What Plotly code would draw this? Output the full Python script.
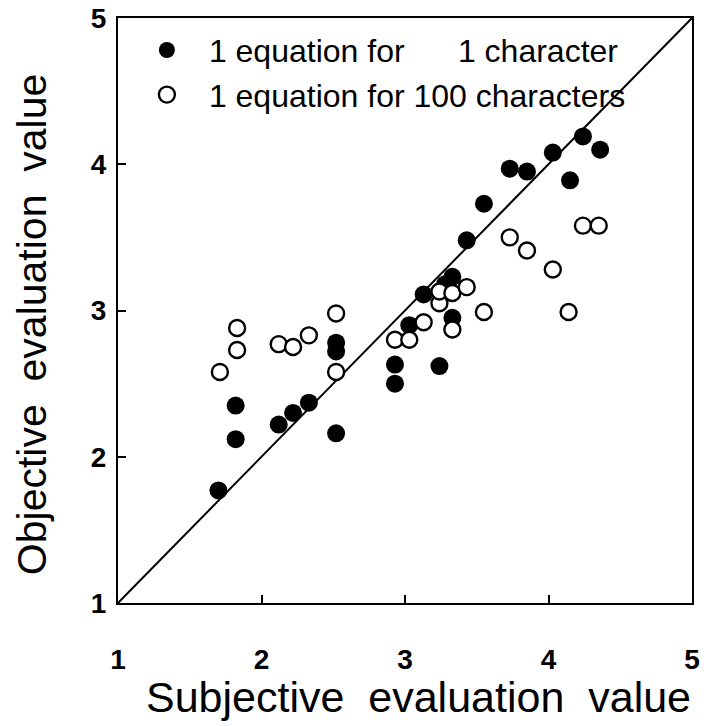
import plotly.graph_objects as go

# Data
filled_x = [1.70, 1.82, 1.82, 2.12, 2.22, 2.33, 2.52, 2.52, 2.52, 2.93, 2.93, 3.03, 3.13,
            3.24, 3.28, 3.33, 3.33, 3.43, 3.55, 3.73, 3.85, 4.03, 4.15, 4.24, 4.36]
filled_y = [1.77, 2.35, 2.12, 2.22, 2.30, 2.37, 2.78, 2.72, 2.16, 2.63, 2.50, 2.90, 3.11,
            2.62, 3.18, 3.23, 2.95, 3.48, 3.73, 3.97, 3.95, 4.08, 3.89, 4.19, 4.10]

open_x = [1.71, 1.83, 1.83, 2.12, 2.22, 2.33, 2.52, 2.52, 2.93, 3.03, 3.13, 3.24,
          3.24, 3.33, 3.43, 3.33, 3.55, 3.73, 3.85, 4.03, 4.14, 4.24, 4.35]
open_y = [2.58, 2.88, 2.73, 2.77, 2.75, 2.83, 2.98, 2.58, 2.80, 2.80, 2.92, 3.05,
          3.13, 3.12, 3.16, 2.87, 2.99, 3.50, 3.41, 3.28, 2.99, 3.58, 3.58]

diag = [1, 5]
ticks = [1, 2, 3, 4, 5]
tick_labels = ["1", "2", "3", "4", "5"]

name_filled = "1 equation for\u00a0\u00a0\u00a0\u00a0\u00a0 1 character"
name_open = "1 equation for 100 characters"
x_title = "Subjective\u00a0 evaluation\u00a0 value"
y_title = "Objective\u00a0 evaluation\u00a0 value"

FONT = "Liberation Sans, Arial, Helvetica, sans-serif"

fig = go.Figure()
fig.add_trace(go.Scatter(x=diag, y=diag, mode="lines", line=dict(color="black", width=2),
                         showlegend=False, hoverinfo="skip"))
fig.add_trace(go.Scatter(x=filled_x, y=filled_y, mode="markers", name=name_filled,
                         legendrank=1,
                         marker=dict(symbol="circle", size=18, color="black",
                                     line=dict(color="black", width=0))))
fig.add_trace(go.Scatter(x=open_x, y=open_y, mode="markers", name=name_open,
                         legendrank=2,
                         marker=dict(symbol="circle", size=16, color="white",
                                     line=dict(color="black", width=2.4))))

axis_common = dict(
    range=[1, 5], tickvals=ticks, ticktext=tick_labels, automargin=False,
    showgrid=False, zeroline=False, showline=True, linecolor="black", linewidth=2,
    mirror=True, ticks="inside", ticklen=8, tickwidth=2, tickcolor="black",
    tickfont=dict(family=FONT, size=28, color="black", weight="bold"),
)

fig.update_xaxes(**axis_common, ticklabelstandoff=30)
fig.update_yaxes(**axis_common, ticklabelstandoff=4)

fig.add_annotation(text=x_title, xref="paper", yref="paper", x=0.524, y=-0.1607,
                   xanchor="center", yanchor="middle", showarrow=False,
                   font=dict(family=FONT, size=43, color="black"))
fig.add_annotation(text=y_title, xref="paper", yref="paper", x=-0.1498, y=0.475,
                   xanchor="center", yanchor="middle", showarrow=False, textangle=-90,
                   font=dict(family=FONT, size=41, color="black"))

fig.update_layout(
    width=704, height=726,
    margin=dict(l=118, r=12, t=18, b=123),
    plot_bgcolor="white", paper_bgcolor="white",
    showlegend=True,
    legend=dict(x=0.012, y=0.992, xanchor="left", yanchor="top",
                bgcolor="rgba(0,0,0,0)", borderwidth=0,
                font=dict(family=FONT, size=32, color="black"),
                tracegroupgap=0, itemwidth=74),
)

fig.write_html("out.html", config={"displayModeBar": False},
               post_script="document.body.style.margin='0';document.body.style.overflow='hidden';")
